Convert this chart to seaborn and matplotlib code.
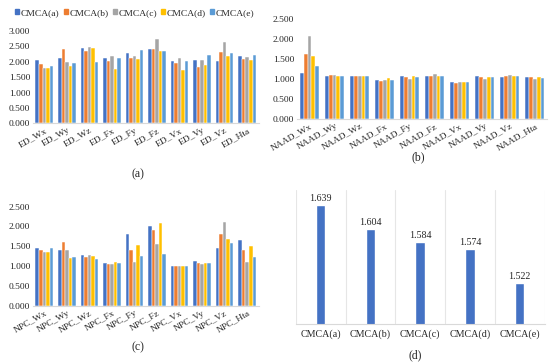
import numpy as np
import pandas as pd
import matplotlib
matplotlib.use("Agg")
import matplotlib.pyplot as plt
import seaborn as sns
from matplotlib.patches import Patch

series = ["CMCA(a)", "CMCA(b)", "CMCA(c)", "CMCA(d)", "CMCA(e)"]
colors = ["#4472C4", "#ED7D31", "#A5A5A5", "#FFC000", "#5B9BD5"]
suffixes = ["Wx", "Wy", "Wz", "Fx", "Fy", "Fz", "Vx", "Vy", "Vz", "Hta"]

ed_cats = ["ED_" + s for s in suffixes]
ed_vals = [
    [2.05, 2.12, 2.44, 2.13, 2.29, 2.41, 2.02, 2.05, 2.03, 2.20],
    [1.92, 2.40, 2.35, 2.02, 2.12, 2.41, 1.96, 1.84, 2.32, 2.09],
    [1.78, 2.00, 2.47, 2.18, 2.19, 2.73, 2.13, 2.04, 2.65, 2.14],
    [1.78, 1.85, 2.45, 1.76, 2.10, 2.35, 1.72, 1.89, 2.17, 2.06],
    [1.87, 1.95, 2.00, 2.12, 2.37, 2.35, 2.03, 2.23, 2.27, 2.22],
]

naad_cats = ["NAAD_" + s for s in suffixes]
naad_vals = [
    [1.15, 1.09, 1.08, 0.98, 1.08, 1.07, 0.92, 1.08, 1.06, 1.06],
    [1.64, 1.10, 1.08, 0.95, 1.05, 1.08, 0.91, 1.05, 1.07, 1.05],
    [2.09, 1.11, 1.08, 0.98, 1.01, 1.12, 0.92, 1.00, 1.11, 1.00],
    [1.59, 1.09, 1.08, 1.02, 1.07, 1.09, 0.92, 1.06, 1.07, 1.06],
    [1.33, 1.09, 1.08, 0.99, 1.05, 1.07, 0.92, 1.06, 1.07, 1.04],
]

npc_cats = ["NPC_" + s for s in suffixes]
npc_vals = [
    [1.45, 1.40, 1.29, 1.09, 1.80, 2.00, 1.01, 1.13, 1.46, 1.66],
    [1.41, 1.62, 1.24, 1.05, 1.41, 1.91, 1.01, 1.08, 1.81, 1.40],
    [1.36, 1.40, 1.29, 1.06, 1.11, 1.57, 1.01, 1.05, 2.10, 1.10],
    [1.37, 1.20, 1.26, 1.10, 1.53, 2.08, 1.01, 1.09, 1.68, 1.51],
    [1.47, 1.24, 1.17, 1.09, 1.25, 1.31, 1.01, 1.09, 1.58, 1.22],
]

d_cats = series
d_vals = [1.639, 1.604, 1.584, 1.574, 1.522]

sns.set_style("white")
plt.rcParams["font.serif"] = ["Liberation Serif", "DejaVu Serif"]
plt.rcParams["font.family"] = "serif"

FS = 6.8

fig = plt.figure(figsize=(5.5, 3.63), dpi=100)

def long_df(cats, vals):
    rows = []
    for s, v in zip(series, vals):
        for c, x in zip(cats, v):
            rows.append({"cat": c, "series": s, "val": x})
    return pd.DataFrame(rows)

def grouped(ax, cats, vals, ymax, ticks, fmt="{:.3f}"):
    df = long_df(cats, vals)
    sns.barplot(data=df, x="cat", y="val", hue="series", palette=colors,
                width=0.78, gap=0.0, ax=ax, legend=False, saturation=1,
                linewidth=0.35, edgecolor="white")
    ax.set_ylim(0, ymax)
    ax.set_xlim(-0.5, len(cats) - 0.5)
    ax.set_yticks(ticks)
    ax.set_yticklabels([fmt.format(t) for t in ticks], fontsize=FS)
    ax.set_xlabel("")
    ax.set_ylabel("")
    for sp in ["top", "right", "left"]:
        ax.spines[sp].set_visible(False)
    ax.spines["bottom"].set_color("#D9D9D9")
    ax.tick_params(axis="both", length=0, pad=2)
    plt.setp(ax.get_xticklabels(), rotation=30, ha="right",
             rotation_mode="anchor", fontsize=FS)

ax_a = fig.add_axes([0.06, 0.660, 0.41, 0.255])
grouped(ax_a, ed_cats, ed_vals, 3.0, [0, 0.5, 1.0, 1.5, 2.0, 2.5, 3.0])

ax_b = fig.add_axes([0.540, 0.672, 0.455, 0.275])
grouped(ax_b, naad_cats, naad_vals, 2.5, [0, 0.5, 1.0, 1.5, 2.0, 2.5])

ax_c = fig.add_axes([0.06, 0.157, 0.41, 0.274])
grouped(ax_c, npc_cats, npc_vals, 2.5, [0, 0.5, 1.0, 1.5, 2.0, 2.5])

handles = [Patch(color=c, label=s) for c, s in zip(colors, series)]
fig.legend(handles=handles, loc="center", bbox_to_anchor=(0.245, 0.965),
           ncol=5, frameon=False, fontsize=FS, handlelength=0.45,
           handleheight=0.45, handletextpad=0.15, columnspacing=0.45,
           borderpad=0, borderaxespad=0)

ax_d = fig.add_axes([0.538, 0.107, 0.452, 0.369])
sns.barplot(x=d_cats, y=d_vals, color="#4472C4", width=0.19, ax=ax_d,
            saturation=1)
ax_d.set_ylim(1.46, 1.662)
ax_d.set_xlim(-0.5, 4.5)
ax_d.set_yticks([])
for sp in ["top", "right", "left"]:
    ax_d.spines[sp].set_visible(False)
ax_d.spines["bottom"].set_color("#D9D9D9")
for xv in np.arange(-0.5, 5.0, 1.0):
    ax_d.axvline(xv, color="#E6E6E6", lw=0.8, zorder=0)
ax_d.tick_params(axis="both", length=0, pad=4)
plt.setp(ax_d.get_xticklabels(), fontsize=7.2)
for i, v in enumerate(d_vals):
    ax_d.text(i, v + 0.003, f"{v:.3f}", ha="center", va="bottom", fontsize=7.2)

fig.text(0.25, 1 - 174 / 363, "(a)", ha="center", va="center", fontsize=8.5)
fig.text(418 / 550, 1 - 157 / 363, "(b)", ha="center", va="center", fontsize=8.5)
fig.text(0.25, 1 - 347 / 363, "(c)", ha="center", va="center", fontsize=8.5)
fig.text(415 / 550, 1 - 355 / 363, "(d)", ha="center", va="center", fontsize=8.5)

fig.savefig("out.png", dpi=100)
